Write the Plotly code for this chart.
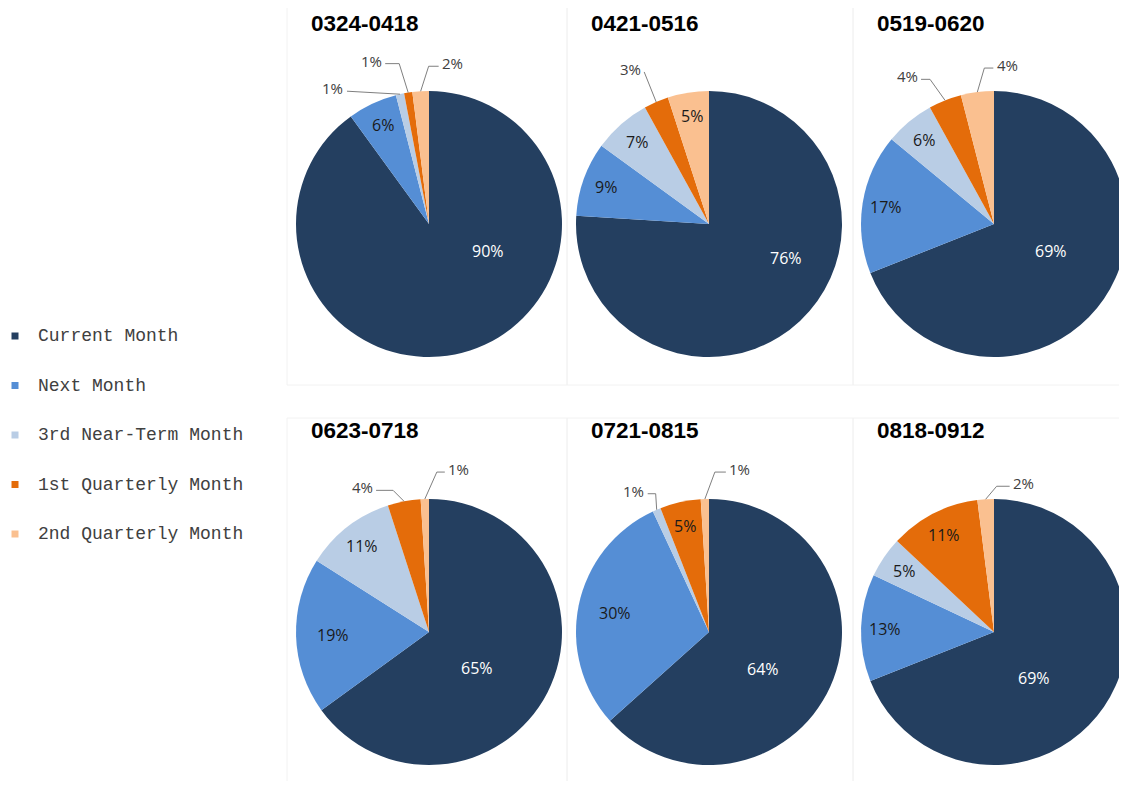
import math
import plotly.graph_objects as go

# ---------------- data ----------------
periods = ["0324-0418", "0421-0516", "0519-0620", "0623-0718", "0721-0815", "0818-0912"]
categories = ["Current Month", "Next Month", "3rd Near-Term Month",
              "1st Quarterly Month", "2nd Quarterly Month"]
share_0324_0418 = [90, 6, 1, 1, 2]
share_0421_0516 = [76, 9, 7, 3, 5]
share_0519_0620 = [69, 17, 6, 4, 4]
share_0623_0718 = [65, 19, 11, 4, 1]
share_0721_0815 = [64, 30, 1, 5, 1]
share_0818_0912 = [69, 13, 5, 11, 2]
shares = [share_0324_0418, share_0421_0516, share_0519_0620,
          share_0623_0718, share_0721_0815, share_0818_0912]

# ---------------- style / layout ----------------
colors = ["#243F60", "#558ED5", "#B9CDE5", "#E46C0A", "#FAC090"]
OFF = 8                      # page body margin of the html page
W, H = 1127 - OFF, 789 - 2 * OFF
R = 133
centers = [(429, 224), (709, 224), (994, 224), (429, 632), (709, 632), (994, 632)]
title_pos = [(310, 23), (590, 23), (876, 23), (310, 431), (590, 431), (876, 431)]
# offset of the "Current Month" label from the pie centre (px)
main_label_offset = [(59, 27), (77, 34), (57, 27), (48, 36), (54, 37), (40, 46)]
# outside labels: pie index -> {slice index: (dx, dy, horizontal leader length)}
outside = {
    0: {2: (-67, -6, 0), 3: (-37, -32, 14), 4: (32, -28, 10)},
    1: {3: (-26, -33, 0)},
    2: {3: (-38, -24, 9), 4: (30, -27, 9)},
    3: {3: (-42, -14, 17), 4: (34, -30, 8)},
    4: {2: (-23, -19, 8), 4: (35, -30, 11)},
    5: {4: (38, -16, 13)},
}
panels_x = [(287, 567), (567, 853), (853, 1140)]
panels_y = [(-10, 385), (418, 800)]
legend_x_marker, legend_x_text = 15, 37
legend_y0, legend_dy = 336, 49.5
LABEL_FONT = "Open Sans"


def px(x, y):
    """screen pixel -> paper coordinate"""
    return (x - OFF) / W, 1 - (y - OFF) / H


fig = go.Figure()
annotations = []
shapes = []

for (py0, py1) in panels_y:
    for (qx0, qx1) in panels_x:
        a = px(qx0, py0)
        b = px(qx1, py1)
        shapes.append(dict(type="rect", xref="paper", yref="paper",
                           x0=a[0], x1=b[0], y0=b[1], y1=a[1],
                           line=dict(color="#F2F2F2", width=1), layer="below"))

for k, (period, vals) in enumerate(zip(periods, shares)):
    cx, cy = centers[k]
    x0, y1 = px(cx - R, cy - R)
    x1, y0 = px(cx + R, cy + R)
    fig.add_trace(go.Pie(
        labels=categories, values=vals, sort=False, direction="clockwise",
        rotation=0, textinfo="none", showlegend=False,
        marker=dict(colors=colors, line=dict(width=0)),
        domain=dict(x=[max(x0, 0), min(x1, 1.0)], y=[y0, y1]),
        name=period,
    ))
    tx, ty = title_pos[k]
    ax_, ay_ = px(tx, ty)
    annotations.append(dict(x=ax_, y=ay_, xref="paper", yref="paper",
                            text="<b>" + period + "</b>",
                            showarrow=False, xanchor="left", yanchor="middle",
                            borderpad=0,
                            font=dict(family="Liberation Sans", size=22.5, color="#000000")))
    total = sum(vals)
    cum = 0
    for i, v in enumerate(vals):
        a0 = cum / total * 2 * math.pi
        cum += v
        a1 = cum / total * 2 * math.pi
        mid = (a0 + a1) / 2
        txt = f"{v}%"
        if i == 0:
            dx, dy = main_label_offset[k]
            lx, ly = px(cx + dx, cy + dy)
            annotations.append(dict(x=lx, y=ly, xref="paper", yref="paper", text=txt,
                                    showarrow=False, xanchor="center", yanchor="middle",
                                    font=dict(family=LABEL_FONT, size=16, color="#FFFFFF")))
        elif i in outside.get(k, {}):
            dx, dy, hl = outside[k][i]
            ex = cx + R * math.sin(mid)
            ey = cy - R * math.cos(mid)
            tx2, ty2 = ex + dx, ey + dy
            lx, ly = px(tx2, ty2)
            annotations.append(dict(x=lx, y=ly, xref="paper", yref="paper", text=txt,
                                    showarrow=False, xanchor="center", yanchor="middle",
                                    font=dict(family=LABEL_FONT, size=15, color="#404040")))
            side = 1 if tx2 > ex else -1
            sx, sy = tx2 - side * 14, ty2 + 3
            bx, by = sx - side * hl, sy
            p = [px(sx, sy), px(bx, by), px(ex, ey)]
            path = "M {} {} L {} {} L {} {}".format(p[0][0], p[0][1], p[1][0], p[1][1],
                                                  p[2][0], p[2][1])
            shapes.append(dict(type="path", xref="paper", yref="paper", path=path,
                               line=dict(color="#7F7F7F", width=1)))
        else:
            frac = 0.82 if v < 18 else 0.72
            lx_px = cx + frac * R * math.sin(mid)
            ly_px = cy - frac * R * math.cos(mid)
            lx, ly = px(lx_px, ly_px)
            annotations.append(dict(x=lx, y=ly, xref="paper", yref="paper", text=txt,
                                    showarrow=False, xanchor="center", yanchor="middle",
                                    font=dict(family=LABEL_FONT, size=16, color="#1A1A1A")))

# legend (drawn from the category list and colours)
for j, (c, col) in enumerate(zip(categories, colors)):
    yy = legend_y0 + j * legend_dy
    m0 = px(legend_x_marker - 3.5, yy - 3.5)
    m1 = px(legend_x_marker + 3.5, yy + 3.5)
    shapes.append(dict(type="rect", xref="paper", yref="paper",
                       x0=m0[0], x1=m1[0], y0=m1[1], y1=m0[1],
                       fillcolor=col, line=dict(width=0)))
    tx3, ty3 = px(legend_x_text, yy)
    annotations.append(dict(x=tx3, y=ty3, xref="paper", yref="paper", text=c,
                            showarrow=False, xanchor="left", yanchor="middle", borderpad=0,
                            font=dict(family="Liberation Mono", size=18, color="#404040")))

fig.update_layout(
    width=W, height=H,
    margin=dict(l=0, r=0, t=0, b=0),
    paper_bgcolor="white", plot_bgcolor="white",
    showlegend=False,
    annotations=annotations, shapes=shapes,
)

fig.write_html("out.html")
